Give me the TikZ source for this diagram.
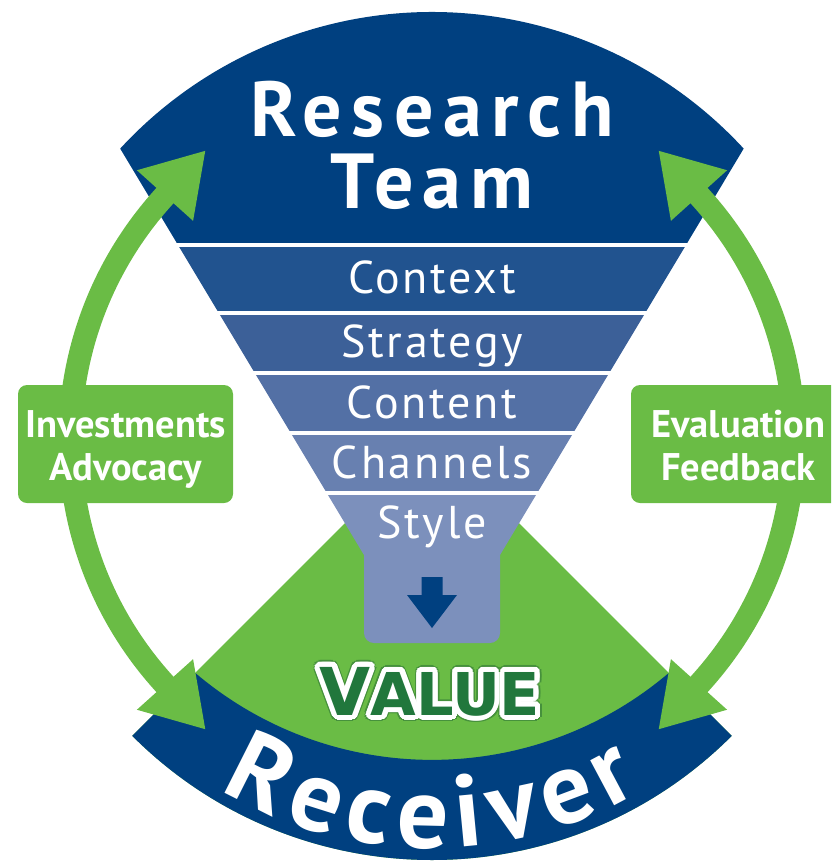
\documentclass[tikz,border=0pt]{standalone}
\usepackage{fontspec}
\setmainfont{PT Sans}
\newfontfamily\valuefont{DejaVu Sans}
\usetikzlibrary{arrows.meta,decorations.text,calc}
\definecolor{navy}{RGB}{0,64,128}
\definecolor{bandA}{RGB}{33,83,143}
\definecolor{bandB}{RGB}{60,96,152}
\definecolor{bandC}{RGB}{83,112,165}
\definecolor{bandD}{RGB}{104,128,176}
\definecolor{bandE}{RGB}{124,144,188}
\definecolor{leaf}{RGB}{106,188,69}
\definecolor{darkleaf}{RGB}{33,119,60}
\definecolor{valring}{RGB}{70,145,60}
\newcommand\valueword{{\valuefont\bfseries\fontsize{66}{66}\selectfont V\fontsize{59}{59}\selectfont ALUE}}
\newcommand\receiverfont{\fontsize{102}{102}\selectfont\bfseries}
\tikzset{
  title/.style={text=white, inner sep=0pt, anchor=base,
    font=\fontsize{78}{78}\selectfont\bfseries\addfontfeatures{LetterSpace=12}},
  bandtext/.style={text=white, inner sep=0pt, anchor=base,
    font=\fontsize{46}{46}\selectfont\addfontfeatures{LetterSpace=6}},
  sidebox/.style={fill=leaf, rounded corners=9},
  boxtext/.style={text=white, inner sep=0pt, anchor=base,
    font=\fontsize{38.5}{38.5}\selectfont\bfseries},
  loop/.style={draw=leaf, line width=23,
    {Triangle[length=61pt,width=71pt]}-{Triangle[length=61pt,width=71pt]}},
  sep/.style={draw=white, line width=4},
}
\begin{document}
\begin{tikzpicture}[x=1pt,y=1pt]
\useasboundingbox (0,0) rectangle (831,-868);
\clip (0,0) rectangle (831,-868);
\coordinate (C) at (432,-436);
% green sector
\fill[leaf] (C) -- ($(C)+(-45:424)$) arc[start angle=-45,end angle=-135,radius=424] -- cycle;
% bottom band
\coordinate (D) at (432,-394);
\fill[navy] ($(C)+(-135:424)$) arc[start angle=-135,end angle=-45,radius=424]
  -- ($(C)+(-45:335)$) arc[start angle=-49.66,end angle=-130.34,radius=365.9] -- cycle;
% top shape
\fill[navy] (120.2,-148.6) arc[start angle=137.33,end angle=42.67,radius=424]
  -- (686,-245) -- (178,-245) -- cycle;
% funnel bands
\fill[bandA] (178,-245) -- (686,-245) -- (645.2,-313) -- (218.8,-313) -- cycle;
\fill[bandB] (218.8,-313) -- (645.2,-313) -- (609.2,-373) -- (254.8,-373) -- cycle;
\fill[bandC] (254.8,-373) -- (609.2,-373) -- (573.2,-433) -- (290.8,-433) -- cycle;
\fill[bandD] (290.8,-433) -- (573.2,-433) -- (537.2,-493) -- (326.8,-493) -- cycle;
\fill[bandE] (326.8,-493) -- (537.2,-493) -- (500,-555) -- (364,-555) -- cycle;
\fill[bandE, rounded corners=10] (364,-540) rectangle (500,-643);
\draw[sep] (175,-245) -- (689,-245);
\draw[sep] (216,-313) -- (648,-313);
\draw[sep] (252,-373) -- (612,-373);
\draw[sep] (288,-433) -- (576,-433);
\draw[sep] (324,-493) -- (540,-493);
% down arrow
\fill[navy] (421.5,-577) -- (442.5,-577) -- (442.5,-595) -- (457,-595) -- (432,-628)
  -- (407,-595) -- (421.5,-595) -- cycle;
% titles
\node[title] (research) at (432,-136) {Research};
\node[title] (team) at (432,-208) {Team};
\node[bandtext] (context) at (432,-293) {Context};
\node[bandtext] (strategy) at (432,-357) {Strategy};
\node[bandtext] (content) at (432,-418) {Content};
\node[bandtext] (channels) at (432,-478) {Channels};
\node[bandtext] (style) at (432,-538) {Style};
% VALUE
\coordinate (val) at (430,-715);
\foreach \a in {0,20,...,340}
  \node[anchor=base, inner sep=0pt, text=valring] (vo\a) at ($(val)+(\a:6.5)$) {\valueword};
\foreach \a in {0,15,...,345}
  \node[anchor=base, inner sep=0pt, text=white] (vw\a) at ($(val)+(\a:5)$) {\valueword};
\node[anchor=base, inner sep=0pt, text=darkleaf] (value) at (val) {\valueword};
% Receiver
\path[decorate, decoration={text along path, text={|\receiverfont|Receiver},
    text align=fit to path, text color=white}]
  ($(C)+(-121:412)$) arc[start angle=-121,end angle=-59.5,radius=412];
% green double arrows
\coordinate (AC) at (432,-440);
\coordinate (Ltop) at ($(AC)+(138:362)$);
\coordinate (Lbot) at ($(AC)+(222:362)$);
\coordinate (LtopTip) at ($(Ltop)+(48:64)$);
\coordinate (LbotTip) at ($(Lbot)+(-48:64)$);
\draw[loop] (LbotTip) -- (Lbot) arc[start angle=222,end angle=138,radius=362] -- (LtopTip);
\coordinate (Rtop) at ($(AC)+(42:362)$);
\coordinate (Rbot) at ($(AC)+(-42:362)$);
\coordinate (RtopTip) at ($(Rtop)+(132:64)$);
\coordinate (RbotTip) at ($(Rbot)+(228:64)$);
\draw[loop] (RbotTip) -- (Rbot) arc[start angle=-42,end angle=42,radius=362] -- (RtopTip);
% boxes
\fill[sidebox] (18,-385) rectangle (233,-503);
\fill[sidebox] (631,-385) rectangle (846,-503);
\node[boxtext] (inv) at (125.5,-437) {Investments};
\node[boxtext] (adv) at (125.5,-480) {Advocacy};
\node[boxtext] (eva) at (738.5,-437) {Evaluation};
\node[boxtext] (fee) at (738.5,-480) {Feedback};
\end{tikzpicture}
\end{document}
